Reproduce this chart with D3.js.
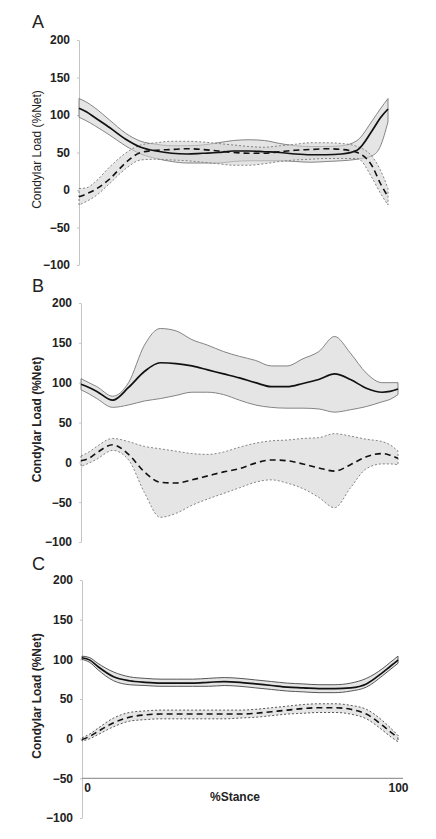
<!DOCTYPE html>
<html>
  <head>
    <meta charset="utf-8">
    <title>Condylar load</title>
    <style>
      body { margin: 0; background: #fff; }
      svg { display: block; font-family: 'Liberation Sans', Arial, sans-serif; }
    </style>
  </head>
  <body>
    <div class='chart-container'></div>
    <script src="https://cdn.jsdelivr.net/npm/d3@7/dist/d3.min.js"></script>
    <script>
// % stance samples shared by every series
var stance = [0, 2.5, 5, 10, 15, 20, 25, 30, 35, 40, 45, 50, 55, 60, 65, 70, 75, 80, 85, 90, 95, 97.5, 100];

// panel A
var aSolidMean  = [109, 104, 97, 83, 68, 57, 52, 49, 48, 49, 50, 52, 52, 51, 50, 48, 47, 47, 48, 53, 80, 96, 108];
var aSolidUpper = [122, 117, 110, 93, 76, 65, 61, 59, 59, 60, 63, 66, 67, 66, 62, 59, 58, 58, 59, 66, 93, 108, 122];
var aSolidLower = [97, 92, 86, 73, 59, 48, 42, 38, 36, 36, 36, 38, 39, 39, 39, 38, 37, 38, 39, 41, 46, 58, 91];
var aDashMean   = [-9, -5, 0, 15, 36, 50, 53, 54, 55, 54, 52, 50, 49, 49, 51, 53, 54, 55, 54, 50, 31, 9, -9];
var aDashUpper  = [2, 3, 10, 31, 49, 60, 63, 65, 65, 64, 62, 60, 58, 57, 59, 61, 63, 63, 62, 58, 44, 27, 2];
var aDashLower  = [-20, -15, -9, 9, 28, 40, 41, 40, 39, 37, 35, 33, 33, 35, 38, 40, 41, 42, 42, 42, 15, -4, -20];

// panel B
var bSolidMean  = [98, 94, 89, 78, 94, 114, 125, 124, 121, 116, 111, 106, 100, 95, 95, 99, 104, 111, 104, 93, 88, 89, 92];
var bSolidUpper = [105, 100, 95, 83, 100, 147, 168, 165, 154, 147, 139, 133, 128, 121, 121, 130, 139, 158, 137, 112, 100, 100, 100];
var bSolidLower = [91, 86, 80, 69, 72, 77, 80, 84, 88, 88, 85, 78, 72, 69, 68, 68, 67, 63, 66, 70, 76, 79, 85];
var bDashMean   = [2, 5, 12, 22, 10, -12, -25, -26, -22, -17, -12, -8, -1, 3, 2, -2, -7, -11, -3, 7, 11, 9, 5];
var bDashUpper  = [8, 13, 20, 30, 26, 20, 17, 14, 11, 10, 13, 19, 24, 27, 28, 30, 31, 36, 33, 29, 26, 22, 14];
var bDashLower  = [-5, -1, 4, 15, 3, -38, -69, -64, -54, -46, -39, -32, -25, -22, -26, -33, -44, -57, -32, -8, -2, -2, -3];

// panel C
var cSolidMean  = [102, 99, 91, 78, 73, 71, 70, 70, 70, 71, 72, 71, 69, 67, 65, 64, 63, 63, 64, 69, 83, 91, 99];
var cSolidUpper = [104, 102, 95, 84, 78, 76, 75, 75, 75, 76, 77, 76, 74, 72, 70, 69, 68, 68, 70, 76, 88, 96, 104];
var cSolidLower = [100, 96, 87, 73, 68, 67, 66, 66, 66, 66, 67, 66, 64, 62, 60, 59, 58, 58, 60, 65, 79, 87, 95];
var cDashMean   = [-1, 3, 9, 20, 27, 30, 31, 31, 31, 31, 31, 31, 32, 34, 36, 38, 39, 39, 37, 31, 17, 9, 1];
var cDashUpper  = [1, 6, 13, 26, 33, 35, 36, 36, 36, 36, 36, 36, 37, 39, 41, 43, 44, 44, 42, 37, 23, 14, 4];
var cDashLower  = [-3, 0, 5, 15, 22, 24, 25, 25, 25, 25, 25, 26, 27, 29, 31, 32, 33, 33, 31, 25, 11, 3, -4];

var yTicks = [200, 150, 100, 50, 0, -50, -100];
var xTicks = [0, 100];
var yTitle = 'Condylar Load (%Net)';
var xTitle = '%Stance';

var width = 436, height = 839;

// screen placement of each panel
var panels = [
  {letter: 'A', x: [79, 388], y: [265, 40], letterY: 28, titleWeight: 'normal', edge: '#777',
   solid: [aSolidMean, aSolidUpper, aSolidLower], dash: [aDashMean, aDashUpper, aDashLower]},
  {letter: 'B', x: [81, 398], y: [542, 303], letterY: 292, titleWeight: 'bold', edge: '#777',
   solid: [bSolidMean, bSolidUpper, bSolidLower], dash: [bDashMean, bDashUpper, bDashLower]},
  {letter: 'C', x: [82, 398], y: [818, 580], letterY: 570, titleWeight: 'bold', edge: '#444', xAxis: true,
   solid: [cSolidMean, cSolidUpper, cSolidLower], dash: [cDashMean, cDashUpper, cDashLower]}
];

var svg = d3.select('.chart-container').append('svg')
    .attr('width', width)
    .attr('height', height);

function toRows(series) {
  return stance.map(function(t, i) {
    return {t: t, mean: series[0][i], hi: series[1][i], lo: series[2][i]};
  });
}

panels.forEach(function(p) {
  var x = d3.scaleLinear().domain([0, 100]).range(p.x);
  var y = d3.scaleLinear().domain([-100, 200]).range(p.y);
  var g = svg.append('g');

  var area = d3.area()
      .curve(d3.curveMonotoneX)
      .x(function(d) { return x(d.t); })
      .y0(function(d) { return y(d.lo); })
      .y1(function(d) { return y(d.hi); });

  var line = d3.line()
      .curve(d3.curveMonotoneX)
      .x(function(d) { return x(d.t); })
      .y(function(d) { return y(d.mean); });

  // y axis
  var yAxis = g.append('g')
      .attr('transform', 'translate(' + p.x[0] + ',0)')
      .call(d3.axisLeft(y).tickValues(yTicks).tickSizeInner(2).tickSizeOuter(0).tickPadding(7));
  yAxis.select('.domain').attr('stroke', '#c4c4c4');
  yAxis.selectAll('.tick line').attr('stroke', '#c4c4c4');
  yAxis.selectAll('.tick text')
      .style('font-family', "'Liberation Sans', Arial, sans-serif")
      .style('font-size', '12px')
      .style('font-weight', 'bold')
      .attr('fill', '#222');

  if (p.xAxis) {
    var xAxis = g.append('g')
        .attr('transform', 'translate(0,' + y(-50) + ')')
        .call(d3.axisBottom(x).tickValues(xTicks).tickSize(0).tickPadding(5));
    xAxis.select('.domain')
        .attr('d', 'M' + x(0) + ',0H' + (x(100) + 5))
        .attr('stroke', '#999')
        .attr('stroke-width', 1.3);
    xAxis.selectAll('.tick text')
        .style('font-family', "'Liberation Sans', Arial, sans-serif")
        .style('font-size', '12px')
        .style('font-weight', 'bold')
        .attr('fill', '#222')
        .attr('dx', function(d) { return d === 0 ? 5 : 0; });
    g.append('text')
        .attr('x', (x(0) + x(100)) / 2 - 5)
        .attr('y', y(-50) + 23)
        .attr('text-anchor', 'middle')
        .style('font-size', '12px')
        .style('font-weight', 'bold')
        .attr('fill', '#222')
        .text(xTitle);
  }

  // bands, solid group then dashed group
  var solidRows = toRows(p.solid);
  var dashRows = toRows(p.dash);

  g.append('path')
      .datum(solidRows)
      .attr('d', area)
      .attr('fill', '#d4d4d4')
      .attr('fill-opacity', 0.6)
      .attr('stroke', p.edge)
      .attr('stroke-width', 0.9);

  g.append('path')
      .datum(dashRows)
      .attr('d', area)
      .attr('fill', '#d4d4d4')
      .attr('fill-opacity', 0.6)
      .attr('stroke', p.edge)
      .attr('stroke-width', 0.9)
      .attr('stroke-dasharray', '2,2');

  g.append('path')
      .datum(solidRows)
      .attr('d', line)
      .attr('fill', 'none')
      .attr('stroke', '#111')
      .attr('stroke-width', 1.7);

  g.append('path')
      .datum(dashRows)
      .attr('d', line)
      .attr('fill', 'none')
      .attr('stroke', '#111')
      .attr('stroke-width', 1.6)
      .attr('stroke-dasharray', '6,4');

  // titles
  g.append('text')
      .attr('x', 32)
      .attr('y', p.letterY)
      .style('font-size', '18px')
      .attr('fill', '#222')
      .text(p.letter);

  var mid = (p.y[0] + p.y[1]) / 2 - 3;
  g.append('text')
      .attr('transform', 'translate(41,' + mid + ') rotate(-90)')
      .attr('text-anchor', 'middle')
      .style('font-size', '12px')
      .style('font-weight', p.titleWeight)
      .attr('fill', '#222')
      .text(yTitle);
});
    </script>
  </body>
</html>
